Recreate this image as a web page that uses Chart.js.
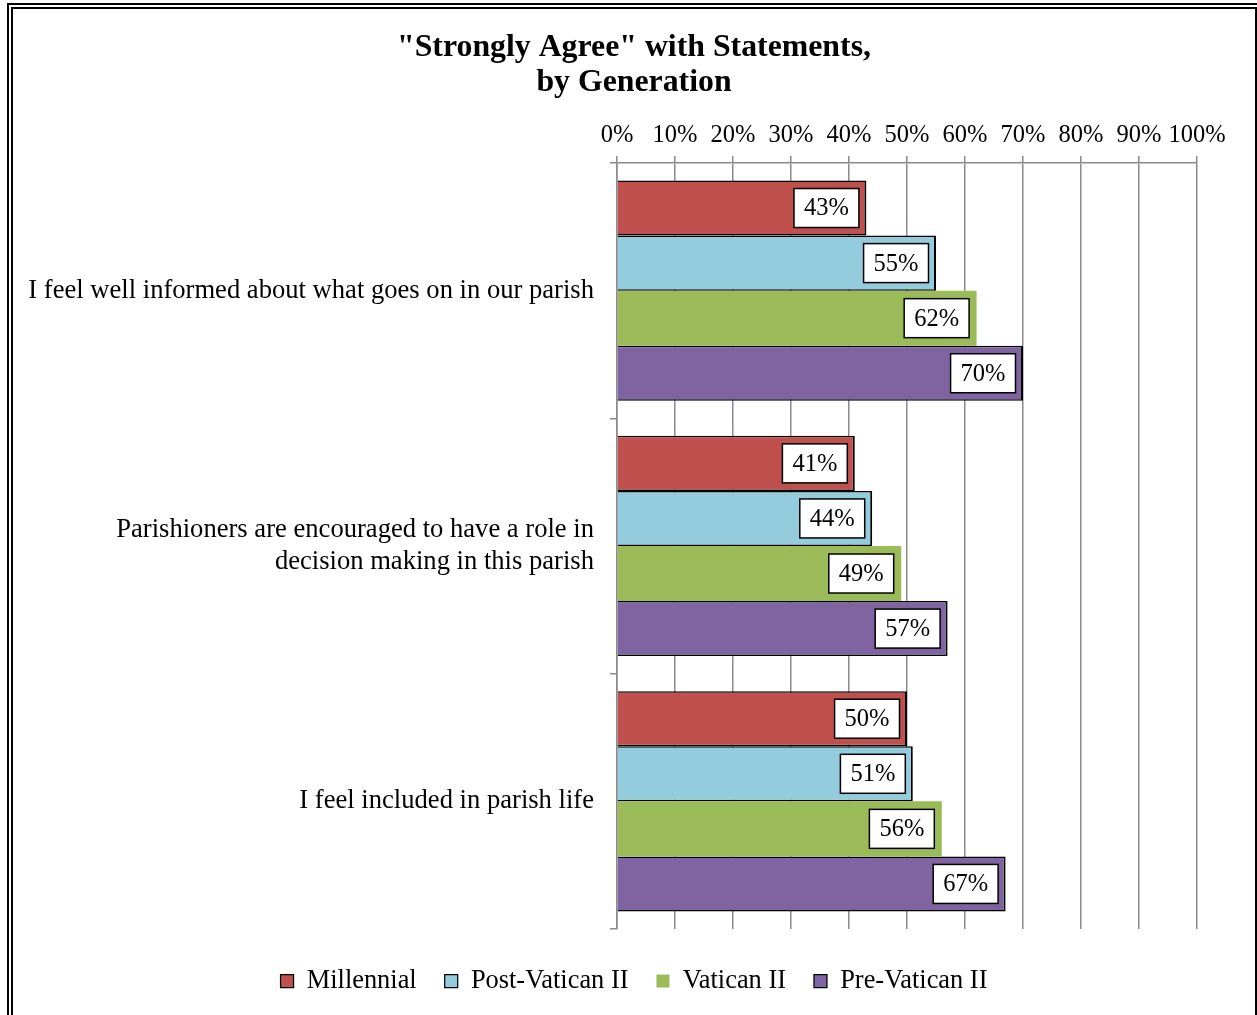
<!DOCTYPE html>
<html>
<head>
<meta charset="utf-8">
<title>Strongly Agree with Statements, by Generation</title>
<script src="https://cdn.jsdelivr.net/npm/chart.js@4.4.0/dist/chart.umd.min.js"></script>
<style>
  html, body { margin: 0; padding: 0; overflow: hidden; background: #fff; }
  #wrap { position: relative; width: 1257px; height: 1015px; }
  #genChart { display: block; }
  /* double frame round the chart */
  #frame {
    position: absolute; left: 7px; top: 3px; width: 1254px; height: 1040px;
    box-sizing: border-box; border: 6px double #000; pointer-events: none;
  }
</style>
</head>
<body>
<div id="wrap">
  <canvas id="genChart" width="1257" height="1015"></canvas>
  <div id="frame"></div>
</div>
<script>
const statements = [
  "I feel well informed about what goes on in our parish",
  ["Parishioners are encouraged to have a role in", "decision making in this parish"],
  "I feel included in parish life",
];
const millennial = [43, 41, 50];
const postVatican2 = [55, 44, 51];
const vatican2 = [62, 49, 56];
const preVatican2 = [70, 57, 67];
const percentTicks = [0, 10, 20, 30, 40, 50, 60, 70, 80, 90, 100];

const GRID = "#8a8a8a";
const outline = { top: 1.5, right: 2, bottom: 1.5, left: 0 };

Chart.defaults.font.family = "'Liberation Serif', 'Times New Roman', serif";
Chart.defaults.color = "#000";

// white value boxes sitting just inside the end of each bar
const valueBoxes = {
  id: "valueBoxes",
  afterDatasetsDraw(chart) {
    const ctx = chart.ctx;
    ctx.save();
    ctx.font = "24.5px 'Liberation Serif'";
    ctx.textAlign = "center";
    ctx.textBaseline = "middle";
    chart.data.datasets.forEach((ds, i) => {
      chart.getDatasetMeta(i).data.forEach((bar, j) => {
        const text = ds.data[j] + "%";
        const w = ctx.measureText(text).width + 20;
        const h = 39;
        const left = bar.x - 7.5 - w;
        const top = bar.y - h / 2;
        ctx.fillStyle = "#fff";
        ctx.fillRect(left, top, w, h);
        ctx.lineWidth = 1.5;
        ctx.strokeStyle = "#000";
        ctx.strokeRect(left, top, w, h);
        ctx.fillStyle = "#000";
        ctx.fillText(text, left + w / 2, bar.y + 1);
      });
    });
    ctx.restore();
  },
};

new Chart(document.getElementById("genChart"), {
  type: "bar",
  data: {
    labels: statements,
    datasets: [
      { label: "Millennial", data: millennial, backgroundColor: "#C0504D", borderColor: "#000", borderWidth: outline },
      { label: "Post-Vatican II", data: postVatican2, backgroundColor: "#93CDDD", borderColor: "#000", borderWidth: outline },
      { label: "Vatican II", data: vatican2, backgroundColor: "#9BBB59", borderColor: "#000", borderWidth: 0 },
      { label: "Pre-Vatican II", data: preVatican2, backgroundColor: "#8064A2", borderColor: "#000", borderWidth: outline },
    ],
  },
  options: {
    indexAxis: "y",
    responsive: false,
    animation: false,
    devicePixelRatio: 1,
    layout: { padding: { left: 24, right: 13, top: 0, bottom: 10.8 } },
    datasets: {
      bar: { categoryPercentage: 0.8627, barPercentage: 1, borderSkipped: false, yAxisID: "y" },
    },
    scales: {
      x: {
        position: "top",
        min: 0,
        max: 100,
        afterBuildTicks(scale) {
          scale.ticks = percentTicks.map((v) => ({ value: v }));
        },
        ticks: {
          padding: 6,
          maxRotation: 0,
          minRotation: 0,
          autoSkip: false,
          font: { size: 24.5 },
          callback: (v) => v + "%",
        },
        grid: { color: GRID, lineWidth: 1.5, tickLength: 7 },
        border: { color: GRID, width: 1.5 },
      },
      y: {
        afterFit(scale) {
          scale.width = 593;
        },
        ticks: { padding: 16, font: { size: 26.6, lineHeight: 1.17 } },
        grid: { offset: true, drawOnChartArea: false, tickLength: 7, color: GRID, lineWidth: 1.5 },
        border: { color: GRID, width: 1.5 },
      },
      // empty strip that keeps the plot clear of the right edge
      margin: {
        axis: "y",
        type: "category",
        position: "right",
        grid: { display: false },
        ticks: { display: false },
        border: { display: false },
        afterFit(scale) {
          scale.width = 47;
        },
      },
    },
    plugins: {
      title: {
        display: true,
        text: ['"Strongly Agree" with Statements,', "by Generation"],
        font: { size: 31.8, weight: "bold", lineHeight: 1.1 },
        color: "#000",
        padding: { top: 30, bottom: 14.6 },
      },
      legend: {
        position: "bottom",
        title: { display: true, text: "", padding: 0, font: { size: 9, lineHeight: 1.2 } },
        labels: {
          boxWidth: 13,
          boxHeight: 13,
          padding: 28,
          color: "#000",
          font: { size: 26.4 },
        },
      },
      tooltip: { enabled: false },
    },
  },
  plugins: [valueBoxes],
});
</script>
</body>
</html>
